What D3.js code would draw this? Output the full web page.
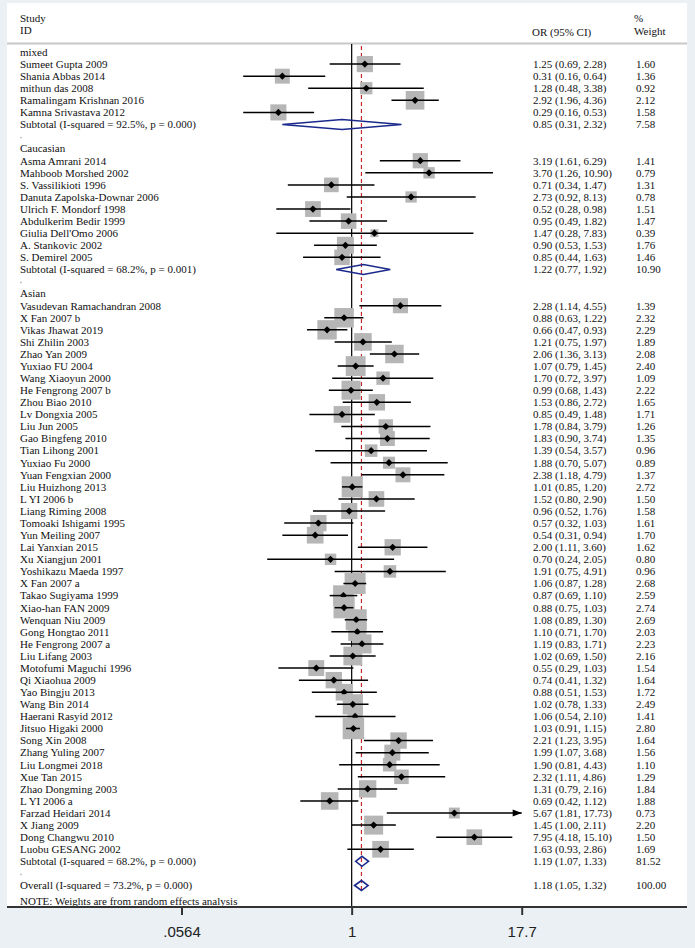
<!DOCTYPE html>
<html><head><meta charset="utf-8">
<script src="https://cdn.jsdelivr.net/npm/d3@7"></script>
<style>html,body{margin:0;padding:0;background:#eaf0f3;}svg{display:block;}</style>
</head><body><svg id="c" width="695" height="948"></svg>
<script>
// ---- data: [study, OR, lower, upper, weight%] ----
const mixedStudies = [
  ["Sumeet Gupta 2009", 1.25, 0.69, 2.28, 1.60],
  ["Shania Abbas 2014", 0.31, 0.16, 0.64, 1.36],
  ["mithun das 2008", 1.28, 0.48, 3.38, 0.92],
  ["Ramalingam Krishnan 2016", 2.92, 1.96, 4.36, 2.12],
  ["Kamna Srivastava 2012", 0.29, 0.16, 0.53, 1.58]
];
const mixedSubtotal = ["Subtotal  (I-squared = 92.5%, p = 0.000)", 0.85, 0.31, 2.32, 7.58];

const caucasianStudies = [
  ["Asma Amrani 2014", 3.19, 1.61, 6.29, 1.41],
  ["Mahboob Morshed 2002", 3.70, 1.26, 10.90, 0.79],
  ["S. Vassilikioti 1996", 0.71, 0.34, 1.47, 1.31],
  ["Danuta Zapolska-Downar 2006", 2.73, 0.92, 8.13, 0.78],
  ["Ulrich F. Mondorf 1998", 0.52, 0.28, 0.98, 1.51],
  ["Abdulkerim Bedir 1999", 0.95, 0.49, 1.82, 1.47],
  ["Giulia Dell'Omo 2006", 1.47, 0.28, 7.83, 0.39],
  ["A. Stankovic 2002", 0.90, 0.53, 1.53, 1.76],
  ["S. Demirel 2005", 0.85, 0.44, 1.63, 1.46]
];
const caucasianSubtotal = ["Subtotal  (I-squared = 68.2%, p = 0.001)", 1.22, 0.77, 1.92, 10.90];

const asianStudies = [
  ["Vasudevan Ramachandran 2008", 2.28, 1.14, 4.55, 1.39],
  ["X Fan 2007 b", 0.88, 0.63, 1.22, 2.32],
  ["Vikas Jhawat 2019", 0.66, 0.47, 0.93, 2.29],
  ["Shi Zhilin 2003", 1.21, 0.75, 1.97, 1.89],
  ["Zhao Yan 2009", 2.06, 1.36, 3.13, 2.08],
  ["Yuxiao FU 2004", 1.07, 0.79, 1.45, 2.40],
  ["Wang Xiaoyun 2000", 1.70, 0.72, 3.97, 1.09],
  ["He Fengrong 2007 b", 0.99, 0.68, 1.43, 2.22],
  ["Zhou Biao 2010", 1.53, 0.86, 2.72, 1.65],
  ["Lv Dongxia 2005", 0.85, 0.49, 1.48, 1.71],
  ["Liu Jun 2005", 1.78, 0.84, 3.79, 1.26],
  ["Gao Bingfeng 2010", 1.83, 0.90, 3.74, 1.35],
  ["Tian Lihong 2001", 1.39, 0.54, 3.57, 0.96],
  ["Yuxiao Fu 2000", 1.88, 0.70, 5.07, 0.89],
  ["Yuan Fengxian 2000", 2.38, 1.18, 4.79, 1.37],
  ["Liu Huizhong 2013", 1.01, 0.85, 1.20, 2.72],
  ["L YI 2006 b", 1.52, 0.80, 2.90, 1.50],
  ["Liang Riming 2008", 0.96, 0.52, 1.76, 1.58],
  ["Tomoaki Ishigami 1995", 0.57, 0.32, 1.03, 1.61],
  ["Yun Meiling 2007", 0.54, 0.31, 0.94, 1.70],
  ["Lai Yanxian 2015", 2.00, 1.11, 3.60, 1.62],
  ["Xu Xiangjun 2001", 0.70, 0.24, 2.05, 0.80],
  ["Yoshikazu Maeda 1997", 1.91, 0.75, 4.91, 0.96],
  ["X Fan 2007 a", 1.06, 0.87, 1.28, 2.68],
  ["Takao Sugiyama 1999", 0.87, 0.69, 1.10, 2.59],
  ["Xiao-han FAN 2009", 0.88, 0.75, 1.03, 2.74],
  ["Wenquan Niu 2009", 1.08, 0.89, 1.30, 2.69],
  ["Gong Hongtao 2011", 1.10, 0.71, 1.70, 2.03],
  ["He Fengrong 2007 a", 1.19, 0.83, 1.71, 2.23],
  ["Liu Lifang 2003", 1.02, 0.69, 1.50, 2.16],
  ["Motofumi Maguchi 1996", 0.55, 0.29, 1.03, 1.54],
  ["Qi Xiaohua 2009", 0.74, 0.41, 1.32, 1.64],
  ["Yao Bingju 2013", 0.88, 0.51, 1.53, 1.72],
  ["Wang Bin 2014", 1.02, 0.78, 1.33, 2.49],
  ["Haerani Rasyid 2012", 1.06, 0.54, 2.10, 1.41],
  ["Jitsuo Higaki 2000", 1.03, 0.91, 1.15, 2.80],
  ["Song Xin 2008", 2.21, 1.23, 3.95, 1.64],
  ["Zhang Yuling 2007", 1.99, 1.07, 3.68, 1.56],
  ["Liu Longmei 2018", 1.90, 0.81, 4.43, 1.10],
  ["Xue Tan 2015", 2.32, 1.11, 4.86, 1.29],
  ["Zhao Dongming 2003", 1.31, 0.79, 2.16, 1.84],
  ["L YI 2006 a", 0.69, 0.42, 1.12, 1.88],
  ["Farzad Heidari 2014", 5.67, 1.81, 17.73, 0.73],
  ["X Jiang 2009", 1.45, 1.00, 2.11, 2.20],
  ["Dong Changwu 2010", 7.95, 4.18, 15.10, 1.50],
  ["Luobu GESANG 2002", 1.63, 0.93, 2.86, 1.69]
];
const asianSubtotal = ["Subtotal  (I-squared = 68.2%, p = 0.000)", 1.19, 1.07, 1.33, 81.52];

const overall = ["Overall  (I-squared = 73.2%, p = 0.000)", 1.18, 1.05, 1.32, 100.00];
const groupNames = ["mixed", "Caucasian", "Asian"];
const tickValues = [0.0564, 1, 17.7];
const tickLabels = [".0564", "1", "17.7"];
const noteText = "NOTE: Weights are from random effects analysis";

// ---- build row list ----
const rows = [];
[[mixedStudies, mixedSubtotal], [caucasianStudies, caucasianSubtotal], [asianStudies, asianSubtotal]]
  .forEach(([studies, sub], gi) => {
    rows.push({type: "group", label: groupNames[gi]});
    studies.forEach(s => rows.push({type: "study", label: s[0], or: s[1], lo: s[2], hi: s[3], w: s[4]}));
    rows.push({type: "sub", label: sub[0], or: sub[1], lo: sub[2], hi: sub[3], w: sub[4]});
    rows.push({type: "spacer"});
  });
rows.push({type: "sub", label: overall[0], or: overall[1], lo: overall[2], hi: overall[3], w: overall[4], overall: true});

const svg = d3.select("#c");
const fmt = d3.format(".2f");
const font = "'Liberation Serif','Times New Roman',serif";

// panel
svg.append("rect").attr("x", 7).attr("y", 3).attr("width", 680).attr("height", 904).attr("fill", "#ffffff");

const y0 = 52, step = 12.08;
const yOf = i => y0 + i * step;
const x = d3.scaleLog().domain([tickValues[0], tickValues[2]]).range([181.5, 521.7]);

// header
svg.append("text").attr("x", 20).attr("y", 18).attr("dy", "0.35em").text("Study");
svg.append("text").attr("x", 20).attr("y", 30).attr("dy", "0.35em").text("ID");
svg.append("text").attr("x", 532).attr("y", 32).attr("dy", "0.35em").text("OR (95% CI)");
svg.append("text").attr("x", 634).attr("y", 18).attr("dy", "0.35em").text("%");
svg.append("text").attr("x", 634).attr("y", 31).attr("dy", "0.35em").text("Weight");
svg.append("line").attr("x1", 7).attr("x2", 687).attr("y1", 43.5).attr("y2", 43.5)
  .attr("stroke", "#c8c8c8").attr("stroke-width", 2);

// reference lines
svg.append("line").attr("x1", x(1)).attr("x2", x(1)).attr("y1", 44).attr("y2", 907)
  .attr("stroke", "#111").attr("stroke-width", 1.3);
svg.append("line").attr("x1", x(overall[1])).attr("x2", x(overall[1])).attr("y1", 46).attr("y2", 893)
  .attr("stroke", "#c62828").attr("stroke-width", 1.2).attr("stroke-dasharray", "4,3");

const g = svg.append("g");
rows.forEach((r, i) => {
  const y = yOf(i);
  if (r.type === "group") {
    g.append("text").attr("x", 20).attr("y", y).attr("dy", "0.35em").text(r.label);
  } else if (r.type === "spacer") {
    g.append("circle").attr("cx", 21).attr("cy", y + 1).attr("r", 0.9).attr("fill", "#bbb");
  } else if (r.type === "study") {
    const side = 12.8 * Math.sqrt(r.w);
    const cx = x(r.or);
    g.append("rect").attr("x", cx - side / 2).attr("y", y - side / 2).attr("width", side).attr("height", side)
      .attr("fill", "#b6b6b6");
    const hi = Math.min(r.hi, tickValues[2]);
    g.append("line").attr("x1", x(r.lo)).attr("x2", x(hi)).attr("y1", y).attr("y2", y)
      .attr("stroke", "#000").attr("stroke-width", 1.5);
    if (r.hi > tickValues[2]) {
      const ex = x(tickValues[2]);
      g.append("path").attr("d", `M${ex},${y}L${ex - 9},${y - 3.5}L${ex - 9},${y + 3.5}Z`).attr("fill", "#000");
    }
    const d = 3.6;
    g.append("path").attr("d", `M${cx - d},${y}L${cx},${y - d}L${cx + d},${y}L${cx},${y + d}Z`).attr("fill", "#000");
    g.append("text").attr("x", 20).attr("y", y).attr("dy", "0.35em").text(r.label);
    g.append("text").attr("x", 533).attr("y", y).attr("dy", "0.35em")
      .text(`${fmt(r.or)} (${fmt(r.lo)}, ${fmt(r.hi)})`);
    g.append("text").attr("x", 636).attr("y", y).attr("dy", "0.35em").text(fmt(r.w));
  } else if (r.type === "sub") {
    const h = 5;
    g.append("path")
      .attr("d", `M${x(r.lo)},${y}L${x(r.or)},${y - h}L${x(r.hi)},${y}L${x(r.or)},${y + h}Z`)
      .attr("fill", "none").attr("stroke", "#1a2a8c").attr("stroke-width", 1.6);
    g.append("text").attr("x", 20).attr("y", y).attr("dy", "0.35em").text(r.label);
    g.append("text").attr("x", 533).attr("y", y).attr("dy", "0.35em")
      .text(`${fmt(r.or)} (${fmt(r.lo)}, ${fmt(r.hi)})`);
    g.append("text").attr("x", 636).attr("y", y).attr("dy", "0.35em").text(fmt(r.w));
  }
});

// note
svg.append("text").attr("x", 20).attr("y", 901).attr("dy", "0.35em").text(noteText);

svg.selectAll("text").filter(function(){ return !this.getAttribute("font-family"); })
  .attr("font-family", font).attr("font-size", 11).attr("fill", "#111");

// axis
const axis = d3.axisBottom(x).tickValues(tickValues).tickFormat((d, i) => tickLabels[i]).tickSize(8).tickPadding(11);
const ag = svg.append("g").attr("transform", "translate(0,907)").call(axis);
ag.select(".domain").remove();
ag.selectAll(".tick line").attr("stroke", "#333").attr("stroke-width", 2);
ag.selectAll(".tick text").attr("font-family", "'Liberation Sans',Arial,sans-serif").attr("font-size", 15)
  .attr("fill", "#222");
svg.append("line").attr("x1", 7).attr("x2", 687).attr("y1", 907).attr("y2", 907)
  .attr("stroke", "#333").attr("stroke-width", 2);
</script></body></html>
